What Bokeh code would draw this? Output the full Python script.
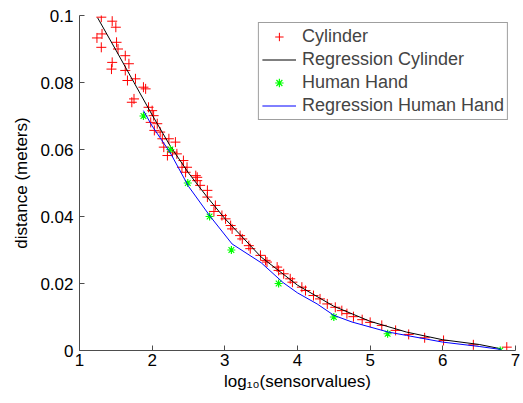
from bokeh.plotting import figure
from bokeh.models import Range1d, FixedTicker, CustomJSTickFormatter, Legend, LegendItem
from bokeh.embed import file_html
from bokeh.resources import INLINE

# ---- data ----
cyl_x = [1.24, 1.30, 1.31, 1.30, 1.45, 1.50, 1.51, 1.53, 1.45, 1.44, 1.63, 1.68, 1.63, 1.66,
         1.77, 1.88, 1.91, 1.75, 1.72, 1.95, 2.00, 2.02, 1.98, 2.07, 2.03, 2.11, 2.14, 2.23,
         2.32, 2.16, 2.21, 2.28, 2.34, 2.41, 2.46, 2.43, 2.48, 2.60, 2.62, 2.62, 2.66, 2.76,
         2.76, 2.87, 2.85, 2.96, 3.01, 3.08, 3.10, 3.21, 3.24, 3.33, 3.35, 3.49, 3.56, 3.58,
         3.72, 3.74, 3.81, 3.90, 3.93, 4.06, 4.11, 4.22, 4.31, 4.41, 4.52, 4.61, 4.68, 4.77,
         4.89, 5.00, 5.16, 5.35, 5.53, 5.75, 6.01, 6.42, 6.88]
cyl_y = [0.0933, 0.0995, 0.0945, 0.0905, 0.0983, 0.0965, 0.0920, 0.0900, 0.0860, 0.0840,
         0.0880, 0.0856, 0.0836, 0.0806, 0.0811, 0.0786, 0.0781, 0.0751, 0.0741, 0.0726,
         0.0716, 0.0701, 0.0681, 0.0677, 0.0657, 0.0652, 0.0632, 0.0632, 0.0622, 0.0607,
         0.0582, 0.0592, 0.0587, 0.0547, 0.0532, 0.0567, 0.0547, 0.0522, 0.0507, 0.0517,
         0.0493, 0.0478, 0.0458, 0.0433, 0.0415, 0.0403, 0.0393, 0.0373, 0.0363, 0.0343,
         0.0333, 0.0313, 0.0304, 0.0284, 0.0269, 0.0264, 0.0249, 0.0239, 0.0229, 0.0214,
         0.0204, 0.0189, 0.0179, 0.0164, 0.0154, 0.0139, 0.0129, 0.0119, 0.0110, 0.0101,
         0.0092, 0.0084, 0.0075, 0.0060, 0.0048, 0.0038, 0.0030, 0.0017, 0.0010]

reg_cyl_x = [1.25, 1.5, 1.75, 2.0, 2.25, 2.5, 2.75, 3.0, 3.5, 4.0, 4.5, 5.0, 5.5, 6.0, 6.5, 6.8]
reg_cyl_y = [0.0993, 0.0897, 0.0800, 0.0703, 0.0610, 0.0530, 0.0460, 0.0394, 0.0279, 0.0195,
             0.0132, 0.0087, 0.0055, 0.0032, 0.0018, 0.0005]

hand_x = [1.88, 2.25, 2.49, 2.79, 3.09, 3.74, 4.50, 5.24, 6.79]
hand_y = [0.07, 0.06, 0.05, 0.04, 0.03, 0.02, 0.01, 0.005, 0.0]

reg_hand_x = [1.88, 2.0, 2.25, 2.5, 2.8, 3.1, 3.5, 3.8, 4.0, 4.27, 4.5, 4.75, 5.25, 5.5, 6.0, 6.5, 6.8]
reg_hand_y = [0.0716, 0.0670, 0.0590, 0.0490, 0.0400, 0.0318, 0.0262, 0.0203, 0.0172, 0.0139,
              0.0105, 0.0085, 0.0055, 0.0045, 0.0025, 0.0012, 0.0003]

x_ticks = [1, 2, 3, 4, 5, 6, 7]
y_ticks = [0, 0.02, 0.04, 0.06, 0.08, 0.1]

FONT = "Liberation Sans"
FS = "17px"

p = figure(width=523, height=398, output_backend="svg", toolbar_location=None,
           x_range=Range1d(1, 7), y_range=Range1d(0, 0.1),
           min_border_left=79, min_border_right=8, min_border_top=15, min_border_bottom=48)
p.outline_line_color = None
p.xgrid.visible = False
p.ygrid.visible = False
p.background_fill_color = "white"
p.border_fill_color = "white"

r_cyl = p.scatter(cyl_x, cyl_y, marker="cross", size=10, line_color="#ff0000", line_width=1)
r_rc = p.line(reg_cyl_x, reg_cyl_y, line_color="black", line_width=1)
r_hand = p.scatter(hand_x, hand_y, marker="asterisk", size=8, line_color="#00ff00", line_width=1.2)
r_rh = p.line(reg_hand_x, reg_hand_y, line_color="#0000ff", line_width=1)

for ax in (p.xaxis[0], p.yaxis[0]):
    ax.axis_line_color = "#4d4d4d"
    ax.major_tick_line_color = "#4d4d4d"
    ax.major_tick_in = 5
    ax.major_tick_out = 0
    ax.minor_tick_line_color = None
    ax.major_label_text_font = FONT
    ax.major_label_text_font_size = FS
    ax.major_label_text_color = "black"
    ax.axis_label_text_font = FONT
    ax.axis_label_text_font_size = FS
    ax.axis_label_text_font_style = "normal"
    ax.axis_label_text_color = "black"

p.xaxis.ticker = FixedTicker(ticks=x_ticks)
p.yaxis.ticker = FixedTicker(ticks=y_ticks)
p.yaxis.formatter = CustomJSTickFormatter(code="return tick.toString();")
p.xaxis.major_label_standoff = 3
p.yaxis.major_label_standoff = 6
p.xaxis.axis_label = "log\u2081\u2080(sensorvalues)"
p.yaxis.axis_label = "distance (meters)"
p.xaxis.axis_label_standoff = 3
p.yaxis.axis_label_standoff = 6

legend = Legend(items=[
    LegendItem(label="Cylinder", renderers=[r_cyl]),
    LegendItem(label="Regression Cylinder", renderers=[r_rc]),
    LegendItem(label="Human Hand", renderers=[r_hand]),
    LegendItem(label="Regression Human Hand", renderers=[r_rh]),
], location="top_right")
legend.margin = 7
legend.padding = 3
legend.spacing = 2
legend.label_height = 21
legend.glyph_height = 21
legend.glyph_width = 34
legend.label_standoff = 6
legend.label_text_font = FONT
legend.label_text_font_size = "18px"
legend.border_line_color = "#404040"
legend.border_line_width = 1
legend.background_fill_alpha = 1
p.add_layout(legend)

open("out.html", "w").write(file_html(p, INLINE))
